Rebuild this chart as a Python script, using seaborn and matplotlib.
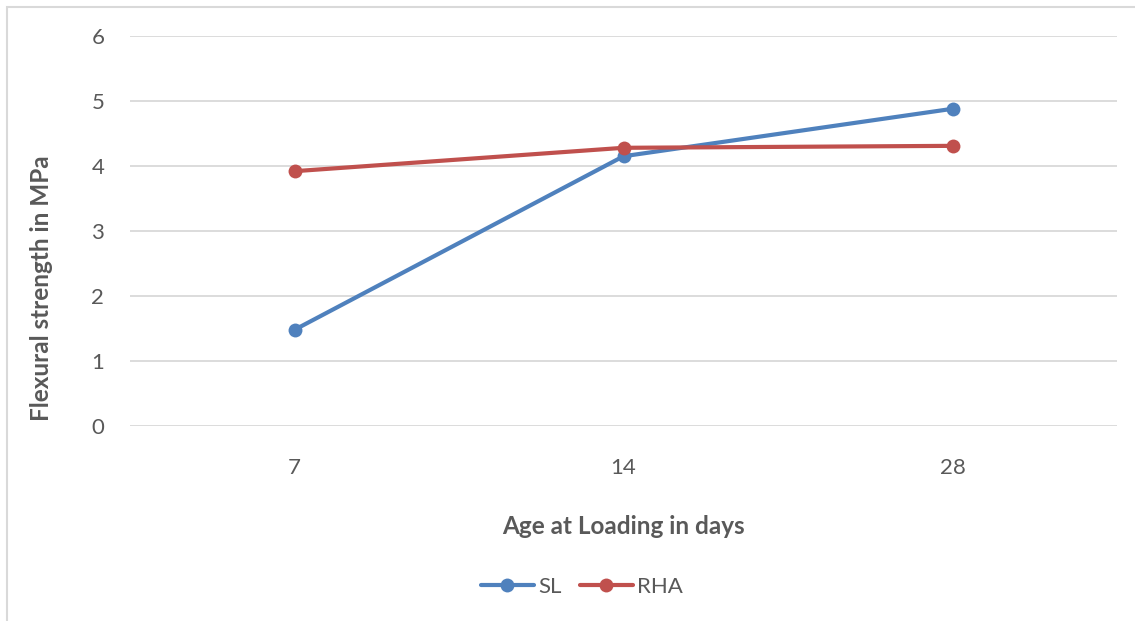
import pandas as pd
import matplotlib.pyplot as plt
import seaborn as sns
from matplotlib.patches import Rectangle

ages=["7", "14", "28"]
sl=[1.48, 4.15, 4.88]
rha=[3.92, 4.28, 4.31]

df=pd.DataFrame({
    "age": ages*2,
    "pos": list(range(len(ages)))*2,
    "value": sl+rha,
    "series": ["SL"]*3+["RHA"]*3
})

sns.set_style("white")
plt.rcParams["font.family"]=["Lato", "DejaVu Sans"]

fig=plt.figure(figsize=(11.35,6.21), dpi=100)
ax=fig.add_axes([130/1135, 1-426/621, 987/1135, 390/621])

fig.patches.append(Rectangle((7/1135, -0.1), 1.2, 1-7/621+0.1,
                             transform=fig.transFigure, fill=False,
                             edgecolor="#D9D9D9", linewidth=1.5, zorder=0))

sns.lineplot(
    data=df, x="pos", y="value", hue="series",
    palette={"SL": "#4F81BD", "RHA": "#C0504D"},
    marker="o", markersize=10, markeredgewidth=0,
    linewidth=3, ax=ax, legend=False
)

ax.set_xlim(-0.5, 2.5)
ax.set_ylim(0, 6)
ax.set_xticks(range(len(ages)))
ax.set_xticklabels(ages)
ax.set_yticks(range(0, 7))
ax.grid(axis="y", color="#D9D9D9", linewidth=1.3)
ax.set_axisbelow(True)
for s in ax.spines.values():
    s.set_visible(False)
ax.tick_params(axis="both", length=0, labelsize=16, labelcolor="#595959")
ax.tick_params(axis="y", pad=18.5)
ax.tick_params(axis="x", pad=23)

ax.set_xlabel("Age at Loading in days", fontsize=17.5, fontweight="bold", color="#595959", labelpad=27)
ax.set_ylabel("Flexural strength in MPa", fontsize=17.5, fontweight="bold", color="#595959")
ax.yaxis.set_label_coords(-0.078, 0.354)

handles=[plt.Line2D([], [], color=c, lw=3, marker="o", markersize=10, markeredgewidth=0)
         for c in ["#4F81BD", "#C0504D"]]
fig.legend(handles, ["SL", "RHA"], loc="center", bbox_to_anchor=(582/1135, 1-587/621),
           ncol=2, frameon=False, fontsize=16, labelcolor="#595959",
           handlelength=2.4, handletextpad=0.2, columnspacing=0.8)

plt.savefig("out.png", dpi=100)
